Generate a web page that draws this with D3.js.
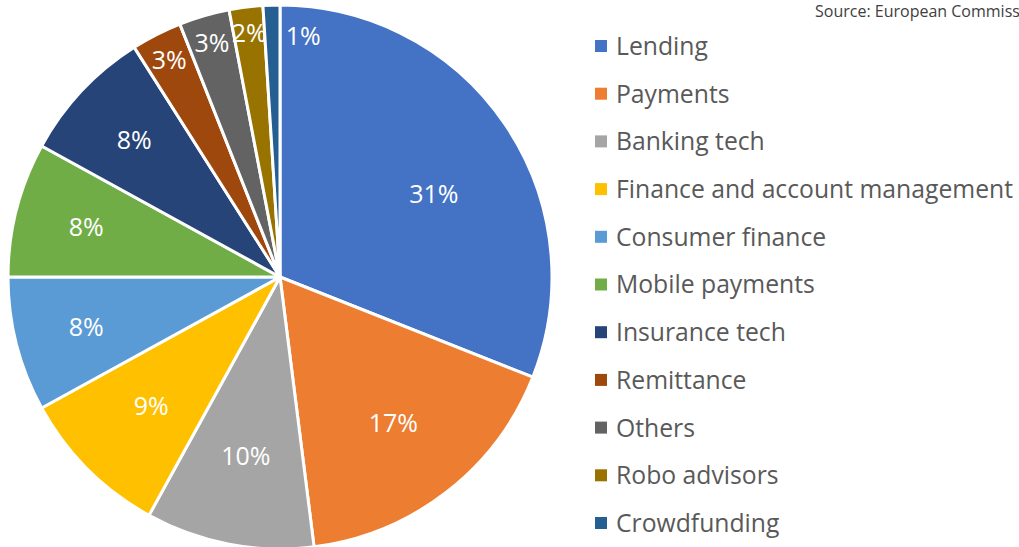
<!DOCTYPE html>
<html>
<head>
<meta charset="utf-8">
<script src="https://cdn.jsdelivr.net/npm/d3@7"></script>
<style>
  body { margin: 0; background: #fff; }
  svg { display: block; }
  text { font-family: "Open Sans", "Noto Sans", sans-serif; }
</style>
</head>
<body>
<svg id="chart" width="1019" height="547"></svg>
<script>
// categories + shares (%)
const categories = ["Lending", "Payments", "Banking tech", "Finance and account management",
  "Consumer finance", "Mobile payments", "Insurance tech", "Remittance", "Others",
  "Robo advisors", "Crowdfunding"];
const shares = [31, 17, 10, 9, 8, 8, 8, 3, 3, 2, 1];
const colors = ["#4472C4", "#ED7D31", "#A5A5A5", "#FFC000", "#5B9BD5", "#70AD47",
  "#264478", "#9E480E", "#636363", "#997300", "#255E91"];
const sourceNote = "Source: European Commission";

const svg = d3.select("#chart");
const cx = 280, cy = 277, R = 272;

const data = categories.map((c, i) => ({ name: c, value: shares[i], color: colors[i] }));

const pie = d3.pie().value(d => d.value).sort(null);
const arc = d3.arc().innerRadius(0).outerRadius(R);
const arcs = pie(data);

const pieLayer = svg.append("g").attr("transform", `translate(${cx},${cy})`);

pieLayer.selectAll("path")
  .data(arcs)
  .enter()
  .append("path")
  .attr("d", arc)
  .style("fill", d => d.data.color)
  .style("stroke", "#fff")
  .style("stroke-width", 3)
  .style("stroke-linejoin", "round");

// smaller slices get their label pushed outwards (like excel best fit)
const labelR = d3.scaleLinear().domain([2, 3, 8, 9, 17, 31]).range([246, 244, 200, 182, 185, 175]).clamp(true);

pieLayer.selectAll(".lbl")
  .data(arcs)
  .enter()
  .append("text")
  .attr("class", "lbl")
  .attr("transform", d => {
    let a = (d.startAngle + d.endAngle) / 2;
    let r = labelR(d.data.value);
    if (d.data.value >= 30) a += 0.1; // excel nudges the big one a bit
    if (d.data.value < 2) { a = d.endAngle + 0.096; r = 242; } // 1% doesn't fit, sits just past the slice
    return `translate(${Math.sin(a) * r},${-Math.cos(a) * r})`;
  })
  .attr("text-anchor", "middle")
  .attr("dy", "0.36em")
  .style("fill", "#fff")
  .style("font-size", "25px")
  .text(d => d.data.value + "%");

// legend
const ly = d3.scalePoint().domain(categories).range([46, 523]);
const legend = svg.append("g");
const rows = legend.selectAll("g")
  .data(data)
  .enter()
  .append("g")
  .attr("transform", d => `translate(595,${ly(d.name)})`);

rows.append("rect")
  .attr("x", 0).attr("y", -6)
  .attr("width", 12).attr("height", 12)
  .style("fill", d => d.color);

const legTxt = rows.append("text")
  .attr("x", 21)
  .attr("dy", "0.36em")
  .style("fill", "#595959")
  .style("font-size", "24px")
  .text(d => d.name);

// fit the longest entry to ~397px wide like the original
const longest = d3.max(legTxt.nodes(), n => n.getComputedTextLength());
legTxt.style("font-size", (24 * 397 / longest).toFixed(2) + "px");

// source note runs off the right edge in the original too
svg.append("text")
  .attr("x", 815).attr("y", 17)
  .style("fill", "#404040")
  .style("font-size", "16px")
  .text(sourceNote);
</script>
</body>
</html>
